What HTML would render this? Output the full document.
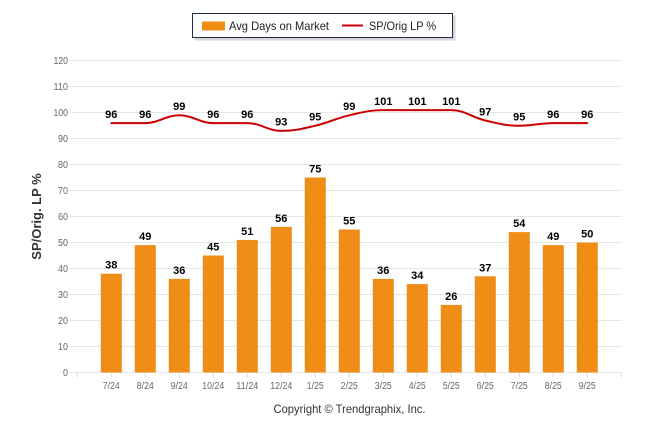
<!DOCTYPE html>
<html><head><meta charset="utf-8"><style>
html,body{margin:0;padding:0;background:#fff;}
svg{display:block;font-family:"Liberation Sans",Arial,sans-serif;}
</style></head><body>
<svg width="646" height="434" viewBox="0 0 646 434" xmlns="http://www.w3.org/2000/svg">
<rect width="646" height="434" fill="#fff"/>
<!-- legend -->
<rect x="194.5" y="15.5" width="261" height="25" fill="#bbb" opacity="0.6"/>
<rect x="192.5" y="13.5" width="260" height="24" fill="#fff" stroke="#1f2d4d" stroke-width="1"/>
<rect x="202" y="21.5" width="23" height="9" fill="#F08D16"/>
<text x="229" y="30" font-size="12" fill="#222" textLength="100" lengthAdjust="spacingAndGlyphs">Avg Days on Market</text>
<line x1="342" y1="25.5" x2="363" y2="25.5" stroke="#cc0000" stroke-width="2"/>
<text x="369" y="30" font-size="12" fill="#222" textLength="67" lengthAdjust="spacingAndGlyphs">SP/Orig LP %</text>
<!-- gridlines -->
<g stroke="#e6e6e6" stroke-width="1">
<line x1="70" y1="60.5" x2="622" y2="60.5"/>
<line x1="70" y1="86.5" x2="622" y2="86.5"/>
<line x1="70" y1="112.5" x2="622" y2="112.5"/>
<line x1="70" y1="138.5" x2="622" y2="138.5"/>
<line x1="70" y1="164.5" x2="622" y2="164.5"/>
<line x1="70" y1="190.5" x2="622" y2="190.5"/>
<line x1="70" y1="216.5" x2="622" y2="216.5"/>
<line x1="70" y1="242.5" x2="622" y2="242.5"/>
<line x1="70" y1="268.5" x2="622" y2="268.5"/>
<line x1="70" y1="294.5" x2="622" y2="294.5"/>
<line x1="70" y1="320.5" x2="622" y2="320.5"/>
<line x1="70" y1="346.5" x2="622" y2="346.5"/>
<line x1="70" y1="372.5" x2="622" y2="372.5"/>
</g>
<!-- x ticks -->
<g stroke="#d8d8d8" stroke-width="1">
<line x1="77.3" y1="373" x2="77.3" y2="377.5"/>
<line x1="111.3" y1="373" x2="111.3" y2="377.5"/>
<line x1="145.3" y1="373" x2="145.3" y2="377.5"/>
<line x1="179.3" y1="373" x2="179.3" y2="377.5"/>
<line x1="213.3" y1="373" x2="213.3" y2="377.5"/>
<line x1="247.3" y1="373" x2="247.3" y2="377.5"/>
<line x1="281.3" y1="373" x2="281.3" y2="377.5"/>
<line x1="315.3" y1="373" x2="315.3" y2="377.5"/>
<line x1="349.3" y1="373" x2="349.3" y2="377.5"/>
<line x1="383.3" y1="373" x2="383.3" y2="377.5"/>
<line x1="417.3" y1="373" x2="417.3" y2="377.5"/>
<line x1="451.3" y1="373" x2="451.3" y2="377.5"/>
<line x1="485.3" y1="373" x2="485.3" y2="377.5"/>
<line x1="519.3" y1="373" x2="519.3" y2="377.5"/>
<line x1="553.3" y1="373" x2="553.3" y2="377.5"/>
<line x1="587.3" y1="373" x2="587.3" y2="377.5"/>
<line x1="621.3" y1="373" x2="621.3" y2="377.5"/>
</g>
<!-- y labels -->
<g font-size="10" fill="#666" text-anchor="end">
<text x="68" y="64" textLength="14.5" lengthAdjust="spacingAndGlyphs">120</text>
<text x="68" y="90" textLength="14.5" lengthAdjust="spacingAndGlyphs">110</text>
<text x="68" y="116" textLength="14.5" lengthAdjust="spacingAndGlyphs">100</text>
<text x="68" y="142" textLength="10" lengthAdjust="spacingAndGlyphs">90</text>
<text x="68" y="168" textLength="10" lengthAdjust="spacingAndGlyphs">80</text>
<text x="68" y="194" textLength="10" lengthAdjust="spacingAndGlyphs">70</text>
<text x="68" y="220" textLength="10" lengthAdjust="spacingAndGlyphs">60</text>
<text x="68" y="246" textLength="10" lengthAdjust="spacingAndGlyphs">50</text>
<text x="68" y="272" textLength="10" lengthAdjust="spacingAndGlyphs">40</text>
<text x="68" y="298" textLength="10" lengthAdjust="spacingAndGlyphs">30</text>
<text x="68" y="324" textLength="10" lengthAdjust="spacingAndGlyphs">20</text>
<text x="68" y="350" textLength="10" lengthAdjust="spacingAndGlyphs">10</text>
<text x="68" y="376" textLength="5" lengthAdjust="spacingAndGlyphs">0</text>
</g>
<!-- y title -->
<text transform="translate(41,216.5) rotate(-90)" text-anchor="middle" font-size="13" font-weight="bold" fill="#333">SP/Orig. LP %</text>
<!-- bars -->
<g fill="#F08D16">
<rect x="100.8" y="273.7" width="21" height="98.8"/>
<rect x="134.8" y="245.1" width="21" height="127.4"/>
<rect x="168.8" y="278.9" width="21" height="93.6"/>
<rect x="202.8" y="255.5" width="21" height="117"/>
<rect x="236.8" y="239.9" width="21" height="132.6"/>
<rect x="270.8" y="226.9" width="21" height="145.6"/>
<rect x="304.8" y="177.5" width="21" height="195"/>
<rect x="338.8" y="229.5" width="21" height="143"/>
<rect x="372.8" y="278.9" width="21" height="93.6"/>
<rect x="406.8" y="284.1" width="21" height="88.4"/>
<rect x="440.8" y="304.9" width="21" height="67.6"/>
<rect x="474.8" y="276.3" width="21" height="96.2"/>
<rect x="508.8" y="232.1" width="21" height="140.4"/>
<rect x="542.8" y="245.1" width="21" height="127.4"/>
<rect x="576.8" y="242.5" width="21" height="130"/>
</g>
<!-- bar labels -->
<g font-size="11" font-weight="bold" fill="#000" text-anchor="middle">
<text x="111.3" y="268.7">38</text>
<text x="145.3" y="240.1">49</text>
<text x="179.3" y="273.9">36</text>
<text x="213.3" y="250.5">45</text>
<text x="247.3" y="234.9">51</text>
<text x="281.3" y="221.9">56</text>
<text x="315.3" y="172.5">75</text>
<text x="349.3" y="224.5">55</text>
<text x="383.3" y="273.9">36</text>
<text x="417.3" y="279.1">34</text>
<text x="451.3" y="299.9">26</text>
<text x="485.3" y="271.3">37</text>
<text x="519.3" y="227.1">54</text>
<text x="553.3" y="240.1">49</text>
<text x="587.3" y="237.5">50</text>
</g>
<!-- line -->
<path fill="none" stroke="#cc0000" stroke-width="2" stroke-linejoin="round" stroke-linecap="round" d="M111.3,123.1 C111.3,123.1 131.7,123.1 145.3,123.1 C158.9,123.1 165.7,115.3 179.3,115.3 C192.9,115.3 199.7,123.1 213.3,123.1 C226.9,123.1 233.7,123.1 247.3,123.1 C260.9,123.1 267.7,130.9 281.3,130.9 C294.9,130.9 301.7,128.82 315.3,125.7 C328.9,122.58 335.7,118.42 349.3,115.3 C362.9,112.18 369.7,110.1 383.3,110.1 C396.9,110.1 403.7,110.1 417.3,110.1 C430.9,110.1 437.7,110.1 451.3,110.1 C464.9,110.1 471.7,117.38 485.3,120.5 C498.9,123.62 505.7,125.7 519.3,125.7 C532.9,125.7 539.7,123.1 553.3,123.1 C566.9,123.1 587.3,123.1 587.3,123.1"/>
<!-- line labels -->
<g font-size="11" font-weight="bold" fill="#000" text-anchor="middle">
<text x="111.3" y="117.9">96</text>
<text x="145.3" y="117.9">96</text>
<text x="179.3" y="110.1">99</text>
<text x="213.3" y="117.9">96</text>
<text x="247.3" y="117.9">96</text>
<text x="281.3" y="125.7">93</text>
<text x="315.3" y="120.5">95</text>
<text x="349.3" y="110.1">99</text>
<text x="383.3" y="104.9">101</text>
<text x="417.3" y="104.9">101</text>
<text x="451.3" y="104.9">101</text>
<text x="485.3" y="115.3">97</text>
<text x="519.3" y="120.5">95</text>
<text x="553.3" y="117.9">96</text>
<text x="587.3" y="117.9">96</text>
</g>
<!-- x labels -->
<g font-size="10" fill="#666" text-anchor="middle">
<text x="111.3" y="389" textLength="17" lengthAdjust="spacingAndGlyphs">7/24</text>
<text x="145.3" y="389" textLength="17" lengthAdjust="spacingAndGlyphs">8/24</text>
<text x="179.3" y="389" textLength="17" lengthAdjust="spacingAndGlyphs">9/24</text>
<text x="213.3" y="389" textLength="22" lengthAdjust="spacingAndGlyphs">10/24</text>
<text x="247.3" y="389" textLength="22" lengthAdjust="spacingAndGlyphs">11/24</text>
<text x="281.3" y="389" textLength="22" lengthAdjust="spacingAndGlyphs">12/24</text>
<text x="315.3" y="389" textLength="17" lengthAdjust="spacingAndGlyphs">1/25</text>
<text x="349.3" y="389" textLength="17" lengthAdjust="spacingAndGlyphs">2/25</text>
<text x="383.3" y="389" textLength="17" lengthAdjust="spacingAndGlyphs">3/25</text>
<text x="417.3" y="389" textLength="17" lengthAdjust="spacingAndGlyphs">4/25</text>
<text x="451.3" y="389" textLength="17" lengthAdjust="spacingAndGlyphs">5/25</text>
<text x="485.3" y="389" textLength="17" lengthAdjust="spacingAndGlyphs">6/25</text>
<text x="519.3" y="389" textLength="17" lengthAdjust="spacingAndGlyphs">7/25</text>
<text x="553.3" y="389" textLength="17" lengthAdjust="spacingAndGlyphs">8/25</text>
<text x="587.3" y="389" textLength="17" lengthAdjust="spacingAndGlyphs">9/25</text>
</g>
<!-- copyright -->
<text x="349.5" y="413" text-anchor="middle" font-size="12" fill="#333" textLength="152" lengthAdjust="spacingAndGlyphs">Copyright © Trendgraphix, Inc.</text>
</svg>
</body></html>
